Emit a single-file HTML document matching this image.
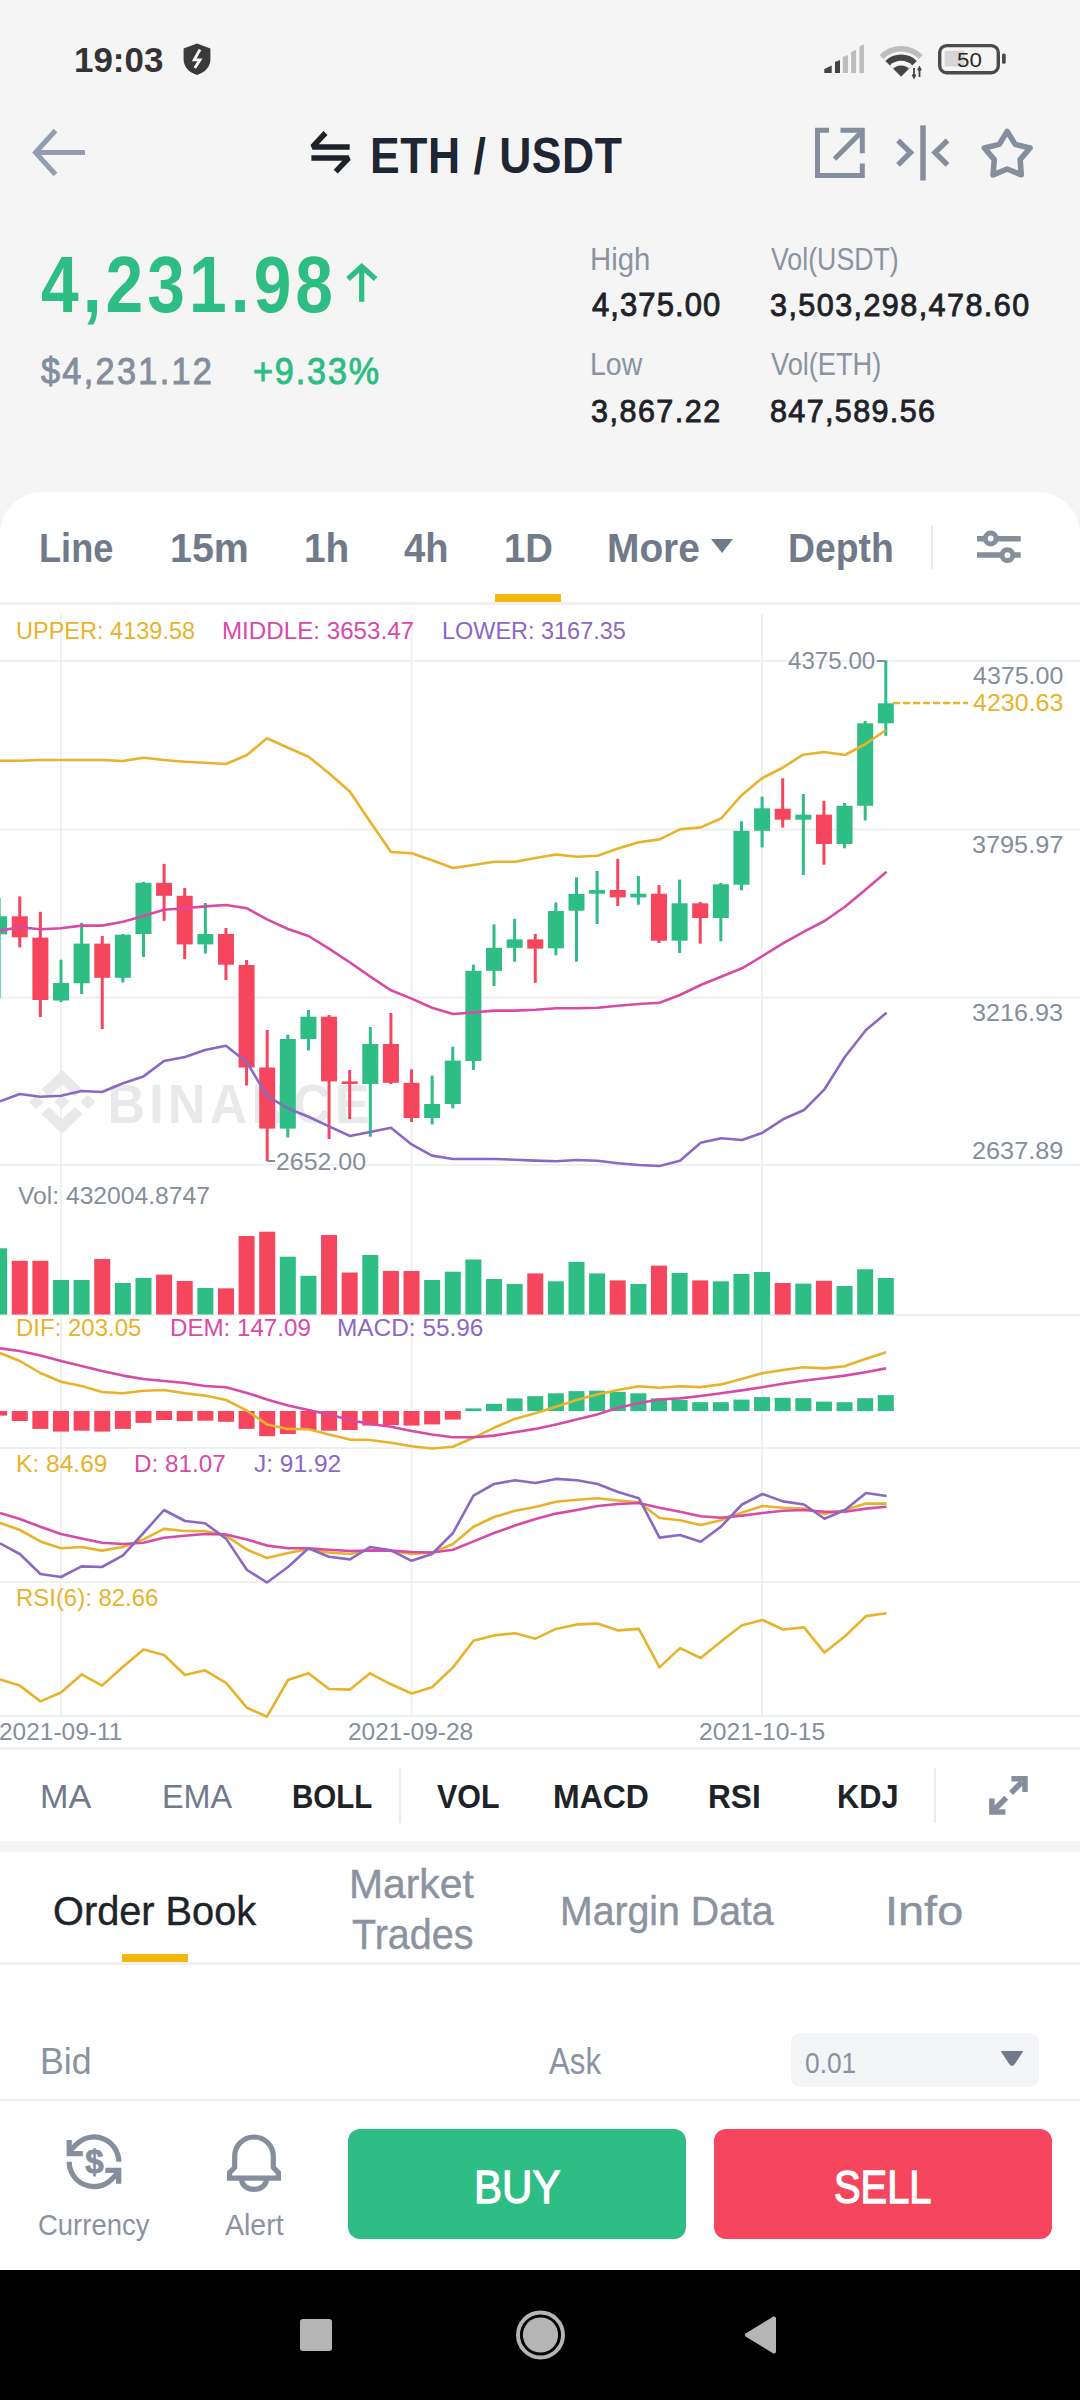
<!DOCTYPE html>
<html><head><meta charset="utf-8"><style>
html,body{margin:0;padding:0;}
body{width:1080px;height:2400px;position:relative;overflow:hidden;background:#f5f5f5;font-family:"Liberation Sans",sans-serif;}
.t{position:absolute;white-space:nowrap;line-height:1;transform-origin:0 0;}
</style></head><body>
<div style="position:absolute;left:0px;top:492px;width:1080px;height:1778px;background:#fff;border-radius:42px 42px 0 0;"></div>
<div class="t" style="left:74.40px;top:43.00px;font-size:34.86px;font-weight:700;color:#333;transform:scaleX(1.0018);letter-spacing:0.00px;">19:03</div>
<svg style="position:absolute;left:180px;top:40px;" width="34" height="38" viewBox="0 0 34 38"><path d="M17 3.4 L30.4 8.5 V19 C30.4 27 25 32.5 17 34.9 C9 32.5 3.6 27 3.6 19 V8.5 Z" fill="#3a3a3a"/><path d="M20 9.5 L14.2 19.8 H20 L14.8 28" stroke="#f5f5f5" stroke-width="2.8" fill="none" stroke-linejoin="miter"/></svg>
<svg style="position:absolute;left:815px;top:35px;" width="200" height="50" viewBox="0 0 200 50"><path d="M9.3 38 V34 L16.7 30.6 V38 Z" fill="#444"/><path d="M20 38 V27 L25 25 V38 Z" fill="#444"/><path d="M27.8 38 V22 L33 20 V38 Z" fill="#bdbdbd"/><path d="M36.1 38 V17 L41.1 14.8 V38 Z" fill="#bdbdbd"/><path d="M44.4 38 V11.5 L49 9.3 V38 Z" fill="#bdbdbd"/><path d="M64.5 20 A30.5 30.5 0 0 1 107.7 20 L86.1 41.6 Z" fill="#bdbdbd"/><path d="M68.4 23.9 A25 25 0 0 1 103.8 23.9 L86.1 41.6 Z" fill="#f5f5f5"/><path d="M70.4 25.9 A22.2 22.2 0 0 1 101.8 25.9 L86.1 41.6 Z" fill="#444"/><path d="M74.9 30.4 A15.8 15.8 0 0 1 97.3 30.4 L86.1 41.6 Z" fill="#f5f5f5"/><path d="M78.3 33.8 A11.1 11.1 0 0 1 93.9 33.8 L86.1 41.6 Z" fill="#444"/><path d="M99 33 V42 M97.5 39.5 L99 42.5 L100.5 39.5 M104.5 42 V33 M103 35.5 L104.5 32.5 L106 35.5" stroke="#444" stroke-width="1.8" fill="none"/><rect x="124.7" y="10.6" width="58.6" height="27.1" rx="7" stroke="#4a4a4a" stroke-width="3.4" fill="none"/><rect x="129.6" y="15.7" width="20" height="15.8" rx="1.5" fill="#d6d6d6"/><rect x="187" y="18.5" width="3.7" height="10.2" rx="1.5" fill="#4a4a4a"/></svg>
<div class="t" style="left:956.71px;top:50.00px;font-size:20.72px;font-weight:400;color:#2a2a2a;transform:scaleX(1.0769);letter-spacing:0.00px;">50</div>
<svg style="position:absolute;left:20px;top:110px;" width="80" height="80" viewBox="0 0 80 80"><path d="M35.5 20.5 L15.5 42.5 L35.5 64.5 M15.5 42.5 H65" stroke="#939dae" stroke-width="5" fill="none" stroke-linejoin="miter" stroke-miterlimit="3"/></svg>
<svg style="position:absolute;left:300px;top:120px;" width="60" height="65" viewBox="0 0 60 65"><path d="M25.5 13 L12.5 26.9 H49.7" stroke="#1e2329" stroke-width="5.5" fill="none" stroke-linejoin="bevel"/><path d="M11.4 38 H48.7 L35.7 51.6" stroke="#1e2329" stroke-width="5.5" fill="none" stroke-linejoin="bevel"/></svg>
<div class="t" style="left:369.61px;top:131.00px;font-size:49.42px;font-weight:700;color:#1e2633;transform:scaleX(0.9000);letter-spacing:0.59px;">ETH / USDT</div>
<svg style="position:absolute;left:800px;top:115px;" width="250" height="75" viewBox="0 0 250 75"><path d="M29 15.2 H17.5 V60.5 H62.3 V48.6" stroke="#848e9c" stroke-width="5" fill="none"/><path d="M40.5 15.2 H62.3 V38.2" stroke="#848e9c" stroke-width="5" fill="none"/><path d="M34.5 44 L60 18.5" stroke="#848e9c" stroke-width="5" fill="none"/><path d="M123 10.4 V65.5" stroke="#848e9c" stroke-width="5.5"/><path d="M98 25.5 L110.5 37.5 L98 49.8 M147.5 25.5 L135 37.5 L147.5 49.8" stroke="#848e9c" stroke-width="5.3" fill="none"/></svg>
<svg style="position:absolute;left:800px;top:115px;" width="250" height="75" viewBox="0 0 250 75"><polygon points="207.20,16.40 215.19,29.40 230.03,32.98 220.13,44.60 221.31,59.82 207.20,54.00 193.09,59.82 194.27,44.60 184.37,32.98 199.21,29.40" stroke="#848e9c" stroke-width="5.6" fill="none" stroke-linejoin="round"/></svg>
<div class="t" style="left:40.98px;top:244.00px;font-size:80.58px;font-weight:700;color:#2ebd85;transform:scaleX(0.8400);letter-spacing:4.85px;">4,231.98</div>
<svg style="position:absolute;left:335px;top:250px;" width="50" height="60" viewBox="0 0 50 60"><path d="M26.7 51.8 V17 M13 29 L26.7 16.5 L40.6 29" stroke="#2ebd85" stroke-width="5.2" fill="none"/></svg>
<div class="t" style="left:40.66px;top:353.00px;font-size:37.25px;font-weight:400;color:#848e9c;transform:scaleX(0.9200);letter-spacing:2.51px;-webkit-text-stroke:1px #848e9c;">$4,231.12</div>
<div class="t" style="left:252.69px;top:354.00px;font-size:36.71px;font-weight:400;color:#2ebd85;transform:scaleX(0.9300);letter-spacing:2.03px;-webkit-text-stroke:1px #2ebd85;">+9.33%</div>
<div class="t" style="left:590.15px;top:244.00px;font-size:30.43px;font-weight:400;color:#8b93a1;transform:scaleX(0.9634);letter-spacing:0.00px;">High</div>
<div class="t" style="left:591.88px;top:289.00px;font-size:32.61px;font-weight:400;color:#1e2329;transform:scaleX(0.9500);letter-spacing:1.16px;-webkit-text-stroke:0.9px #1e2329;">4,375.00</div>
<div class="t" style="left:771.37px;top:244.00px;font-size:30.43px;font-weight:400;color:#8b93a1;transform:scaleX(0.8790);letter-spacing:0.00px;">Vol(USDT)</div>
<div class="t" style="left:770.28px;top:289.00px;font-size:32.14px;font-weight:400;color:#1e2329;transform:scaleX(0.9500);letter-spacing:1.51px;-webkit-text-stroke:0.9px #1e2329;">3,503,298,478.60</div>
<div class="t" style="left:590.22px;top:349.00px;font-size:30.43px;font-weight:400;color:#8b93a1;transform:scaleX(0.9361);letter-spacing:0.00px;">Low</div>
<div class="t" style="left:591.28px;top:395.00px;font-size:32.14px;font-weight:400;color:#1e2329;transform:scaleX(0.9500);letter-spacing:1.57px;-webkit-text-stroke:0.9px #1e2329;">3,867.22</div>
<div class="t" style="left:771.36px;top:349.00px;font-size:30.43px;font-weight:400;color:#8b93a1;transform:scaleX(0.8935);letter-spacing:0.00px;">Vol(ETH)</div>
<div class="t" style="left:770.13px;top:395.00px;font-size:32.14px;font-weight:400;color:#1e2329;transform:scaleX(0.9500);letter-spacing:1.43px;-webkit-text-stroke:0.9px #1e2329;">847,589.56</div>
<div class="t" style="left:38.95px;top:529.00px;font-size:39.86px;font-weight:700;color:#707a8a;transform:scaleX(0.9074);letter-spacing:0.00px;">Line</div>
<div class="t" style="left:170.14px;top:529.00px;font-size:39.86px;font-weight:700;color:#707a8a;transform:scaleX(0.9876);letter-spacing:0.00px;">15m</div>
<div class="t" style="left:303.67px;top:529.00px;font-size:39.86px;font-weight:700;color:#707a8a;transform:scaleX(0.9724);letter-spacing:0.00px;">1h</div>
<div class="t" style="left:404.43px;top:529.00px;font-size:39.86px;font-weight:700;color:#707a8a;transform:scaleX(0.9553);letter-spacing:0.00px;">4h</div>
<div class="t" style="left:503.70px;top:529.00px;font-size:39.86px;font-weight:700;color:#707a8a;transform:scaleX(0.9609);letter-spacing:0.00px;">1D</div>
<div style="position:absolute;left:495px;top:594px;width:66px;height:8px;background:#f0b90b;"></div>
<div class="t" style="left:607.47px;top:529.00px;font-size:39.86px;font-weight:700;color:#707a8a;transform:scaleX(0.9751);letter-spacing:0.00px;">More</div>
<svg style="position:absolute;left:710px;top:538px;" width="24" height="16" viewBox="0 0 24 16"><path d="M1 1 H23 L12 15 Z" fill="#707a8a"/></svg>
<div class="t" style="left:787.57px;top:529.00px;font-size:39.86px;font-weight:700;color:#707a8a;transform:scaleX(0.9369);letter-spacing:0.00px;">Depth</div>
<div style="position:absolute;left:930.5px;top:525px;width:2.5px;height:44px;background:#eaecef;"></div>
<svg style="position:absolute;left:960px;top:520px;" width="80" height="55" viewBox="0 0 80 55"><path d="M17 18.7 H60.7 M17 35 H60.7" stroke="#848e9c" stroke-width="5.5"/><circle cx="30.7" cy="18.5" r="5.4" fill="#fff" stroke="#848e9c" stroke-width="5"/><circle cx="47.4" cy="35.2" r="5.4" fill="#fff" stroke="#848e9c" stroke-width="5"/></svg>
<div style="position:absolute;left:0px;top:602px;width:1080px;height:2.5px;background:#eef0f2;"></div>
<svg style="position:absolute;left:0;top:0" width="1080" height="2400"><rect x="0" y="660" width="1080" height="2" fill="#eff0f2"/><rect x="0" y="828.5" width="1080" height="2" fill="#eff0f2"/><rect x="0" y="996.5" width="1080" height="2" fill="#eff0f2"/><rect x="0" y="1164" width="1080" height="2" fill="#eff0f2"/><rect x="0" y="1314" width="1080" height="2" fill="#eff0f2"/><rect x="0" y="1447" width="1080" height="2" fill="#eff0f2"/><rect x="0" y="1581" width="1080" height="2" fill="#eff0f2"/><rect x="0" y="1715" width="1080" height="2" fill="#eff0f2"/><rect x="60" y="614" width="2" height="1102" fill="#eff0f2"/><rect x="410.5" y="614" width="2" height="1102" fill="#eff0f2"/><rect x="761" y="614" width="2" height="1102" fill="#eff0f2"/><g transform="translate(28.6,1070) scale(0.5277,0.5036)" fill="#e8e9eb"><path d="M38.73 53.2l24.59-24.58 24.6 24.6 14.3-14.31L63.32 0 24.43 38.9l14.3 14.3zM0 63.31l14.3-14.31 14.31 14.31-14.31 14.3zm38.73 10.11l24.59 24.59 24.6-24.6 14.31 14.29-38.9 38.91-38.91-38.88-.02-.02 14.33-14.29zm59.27-10.1l14.3-14.31 14.31 14.3-14.31 14.32z"/><path d="M77.83 63.3L63.32 48.78 52.59 59.51l-1.24 1.23-2.54 2.54-.02.02.02.03 14.51 14.5 14.51-14.52.01-.01-.01-.01z"/></g><text x="107.43" y="1123.4" font-family="Liberation Sans" font-weight="700" font-size="54.64" letter-spacing="4.50" fill="#e8e9eb" transform="translate(5.54,0) scale(0.95,1)">BINANCE</text><rect x="-2.36" y="898" width="3" height="100.00" fill="#2ebd85"/><rect x="-8.86" y="916.3" width="16" height="18.00" fill="#2ebd85"/><rect x="18.26" y="896.4" width="3" height="51.00" fill="#f6465d"/><rect x="11.76" y="916.3" width="16" height="21.00" fill="#f6465d"/><rect x="38.88" y="911.8" width="3" height="105.20" fill="#f6465d"/><rect x="32.38" y="937.6" width="16" height="62.40" fill="#f6465d"/><rect x="59.50" y="959.7" width="3" height="42.30" fill="#2ebd85"/><rect x="53.00" y="983" width="16" height="17.50" fill="#2ebd85"/><rect x="80.12" y="922.8" width="3" height="71.20" fill="#2ebd85"/><rect x="73.62" y="943.6" width="16" height="39.70" fill="#2ebd85"/><rect x="100.74" y="936" width="3" height="93.00" fill="#f6465d"/><rect x="94.24" y="943.6" width="16" height="34.20" fill="#f6465d"/><rect x="121.36" y="934" width="3" height="48.50" fill="#2ebd85"/><rect x="114.86" y="934.7" width="16" height="43.10" fill="#2ebd85"/><rect x="141.98" y="882" width="3" height="75.00" fill="#2ebd85"/><rect x="135.48" y="882.8" width="16" height="51.20" fill="#2ebd85"/><rect x="162.60" y="863.9" width="3" height="56.90" fill="#f6465d"/><rect x="156.10" y="882.8" width="16" height="13.00" fill="#f6465d"/><rect x="183.22" y="888" width="3" height="71.00" fill="#f6465d"/><rect x="176.72" y="895.8" width="16" height="48.60" fill="#f6465d"/><rect x="203.84" y="903" width="3" height="50.60" fill="#2ebd85"/><rect x="197.34" y="934" width="16" height="10.40" fill="#2ebd85"/><rect x="224.46" y="928" width="3" height="52.00" fill="#f6465d"/><rect x="217.96" y="934" width="16" height="30.70" fill="#f6465d"/><rect x="245.08" y="960" width="3" height="125.50" fill="#f6465d"/><rect x="238.58" y="965" width="16" height="102.50" fill="#f6465d"/><rect x="265.70" y="1030" width="3" height="131.00" fill="#f6465d"/><rect x="259.20" y="1067.5" width="16" height="61.10" fill="#f6465d"/><rect x="286.32" y="1034.7" width="3" height="102.80" fill="#2ebd85"/><rect x="279.82" y="1039" width="16" height="89.60" fill="#2ebd85"/><rect x="306.94" y="1010" width="3" height="40.50" fill="#2ebd85"/><rect x="300.44" y="1016.7" width="16" height="22.30" fill="#2ebd85"/><rect x="327.56" y="1015" width="3" height="124.00" fill="#f6465d"/><rect x="321.06" y="1016.7" width="16" height="64.70" fill="#f6465d"/><rect x="348.18" y="1070" width="3" height="49.00" fill="#f6465d"/><rect x="341.68" y="1081.4" width="16" height="2.60" fill="#f6465d"/><rect x="368.80" y="1027" width="3" height="109.70" fill="#2ebd85"/><rect x="362.30" y="1044" width="16" height="40.00" fill="#2ebd85"/><rect x="389.42" y="1013" width="3" height="71.00" fill="#f6465d"/><rect x="382.92" y="1044" width="16" height="38.80" fill="#f6465d"/><rect x="410.04" y="1069.4" width="3" height="52.60" fill="#f6465d"/><rect x="403.54" y="1082.8" width="16" height="35.20" fill="#f6465d"/><rect x="430.66" y="1075.6" width="3" height="48.80" fill="#2ebd85"/><rect x="424.16" y="1104" width="16" height="14.00" fill="#2ebd85"/><rect x="451.28" y="1046.7" width="3" height="61.60" fill="#2ebd85"/><rect x="444.78" y="1060.6" width="16" height="43.40" fill="#2ebd85"/><rect x="471.90" y="964.7" width="3" height="105.30" fill="#2ebd85"/><rect x="465.40" y="970.8" width="16" height="90.20" fill="#2ebd85"/><rect x="492.52" y="924.4" width="3" height="61.60" fill="#2ebd85"/><rect x="486.02" y="947.8" width="16" height="23.00" fill="#2ebd85"/><rect x="513.14" y="918.9" width="3" height="42.80" fill="#2ebd85"/><rect x="506.64" y="939.4" width="16" height="8.40" fill="#2ebd85"/><rect x="533.76" y="934" width="3" height="48.80" fill="#f6465d"/><rect x="527.26" y="939.4" width="16" height="9.20" fill="#f6465d"/><rect x="554.38" y="902.4" width="3" height="52.80" fill="#2ebd85"/><rect x="547.88" y="911" width="16" height="37.30" fill="#2ebd85"/><rect x="575.00" y="877.4" width="3" height="84.30" fill="#2ebd85"/><rect x="568.50" y="894" width="16" height="16.70" fill="#2ebd85"/><rect x="595.62" y="871" width="3" height="53.00" fill="#2ebd85"/><rect x="589.12" y="890" width="16" height="3.70" fill="#2ebd85"/><rect x="616.24" y="858.9" width="3" height="47.10" fill="#f6465d"/><rect x="609.74" y="890" width="16" height="7.40" fill="#f6465d"/><rect x="636.86" y="876" width="3" height="28.80" fill="#2ebd85"/><rect x="630.36" y="893.7" width="16" height="3.70" fill="#2ebd85"/><rect x="657.48" y="885" width="3" height="58.00" fill="#f6465d"/><rect x="650.98" y="893.7" width="16" height="47.00" fill="#f6465d"/><rect x="678.10" y="879.6" width="3" height="73.40" fill="#2ebd85"/><rect x="671.60" y="903.3" width="16" height="37.40" fill="#2ebd85"/><rect x="698.72" y="901.9" width="3" height="41.80" fill="#f6465d"/><rect x="692.22" y="903.3" width="16" height="14.70" fill="#f6465d"/><rect x="719.34" y="883" width="3" height="58.30" fill="#2ebd85"/><rect x="712.84" y="884.3" width="16" height="33.70" fill="#2ebd85"/><rect x="739.96" y="821.3" width="3" height="69.00" fill="#2ebd85"/><rect x="733.46" y="830.8" width="16" height="53.90" fill="#2ebd85"/><rect x="760.58" y="796.7" width="3" height="50.80" fill="#2ebd85"/><rect x="754.08" y="808.3" width="16" height="22.50" fill="#2ebd85"/><rect x="781.20" y="778.3" width="3" height="49.20" fill="#f6465d"/><rect x="774.70" y="808.7" width="16" height="11.00" fill="#f6465d"/><rect x="801.82" y="794" width="3" height="81.00" fill="#2ebd85"/><rect x="795.32" y="814.7" width="16" height="5.00" fill="#2ebd85"/><rect x="822.44" y="800.8" width="3" height="63.90" fill="#f6465d"/><rect x="815.94" y="814.7" width="16" height="29.30" fill="#f6465d"/><rect x="843.06" y="803" width="3" height="45.30" fill="#2ebd85"/><rect x="836.56" y="805.8" width="16" height="38.20" fill="#2ebd85"/><rect x="863.68" y="721" width="3" height="99.50" fill="#2ebd85"/><rect x="857.18" y="723.3" width="16" height="82.50" fill="#2ebd85"/><rect x="884.30" y="660.3" width="3" height="75.50" fill="#2ebd85"/><rect x="877.80" y="703.3" width="16" height="20.00" fill="#2ebd85"/><polyline points="0.0,760.7 19.8,760.7 40.4,760.0 61.0,760.0 81.6,760.0 102.0,760.0 123.0,761.0 143.5,757.7 164.0,760.0 185.0,761.7 205.0,762.7 226.0,764.0 247.0,755.0 267.0,738.3 288.0,747.7 308.5,756.7 329.0,773.3 350.0,791.7 370.0,821.4 391.0,852.0 411.6,853.3 432.0,860.3 453.0,868.0 473.5,865.0 494.0,861.7 515.0,861.7 535.5,858.0 556.0,854.5 577.0,856.7 597.6,855.8 618.0,848.5 638.8,842.2 659.5,839.4 680.0,829.3 700.7,827.4 721.0,818.5 741.0,795.8 762.0,778.3 783.0,767.5 803.0,754.7 824.0,752.0 845.0,755.0 865.5,744.0 886.0,730.0" fill="none" stroke="#e8b32a" stroke-width="2.6" stroke-linejoin="round"/><polyline points="0.0,930.6 19.8,927.2 40.4,929.2 61.0,928.3 81.6,925.6 102.0,925.6 123.0,921.7 143.5,916.0 164.0,909.7 185.0,908.3 205.0,906.4 226.0,905.0 247.0,908.3 267.0,919.4 288.0,929.0 308.5,936.0 329.0,948.6 350.0,962.5 370.0,976.4 391.0,990.3 411.6,998.6 432.0,1007.8 453.0,1014.0 473.5,1012.5 494.0,1010.6 515.0,1010.6 535.5,1009.7 556.0,1008.3 577.0,1008.3 597.6,1007.7 618.0,1005.7 638.8,1004.0 659.5,1002.7 680.0,995.0 700.7,985.0 721.0,976.7 742.0,968.3 762.6,956.0 783.0,943.3 804.0,931.7 824.5,921.0 845.0,906.7 866.0,889.3 886.6,871.7" fill="none" stroke="#d84aa8" stroke-width="2.6" stroke-linejoin="round"/><polyline points="0.0,1101.4 19.8,1094.0 40.4,1096.7 61.0,1095.8 81.6,1091.0 102.0,1092.0 123.0,1083.3 143.5,1076.4 164.0,1061.0 185.0,1057.0 205.0,1050.0 226.0,1045.8 247.0,1062.5 267.0,1095.8 288.0,1108.5 308.5,1116.7 329.0,1126.4 350.0,1136.0 370.0,1132.0 391.0,1127.8 411.6,1144.4 432.0,1155.6 453.0,1159.0 473.5,1159.0 494.0,1159.0 515.0,1159.7 535.5,1160.6 556.0,1161.3 577.0,1160.0 597.6,1160.7 618.0,1163.3 638.8,1165.0 659.5,1166.0 680.0,1160.7 700.7,1142.7 721.0,1138.3 742.0,1140.0 762.6,1132.7 783.0,1119.3 804.0,1110.0 824.5,1089.3 845.0,1056.7 866.0,1030.0 886.6,1012.7" fill="none" stroke="#8b68c4" stroke-width="2.6" stroke-linejoin="round"/><path d="M893 703 H968" stroke="#e8b32a" stroke-width="2.6" stroke-dasharray="7 3"/><path d="M877 661 H885" stroke="#848e9c" stroke-width="2"/><path d="M267 1161 H275" stroke="#848e9c" stroke-width="2"/><rect x="-8.86" y="1248.3" width="16" height="66.20" fill="#2ebd85"/><rect x="11.76" y="1260.8" width="16" height="53.70" fill="#f6465d"/><rect x="32.38" y="1260.8" width="16" height="53.70" fill="#f6465d"/><rect x="53.00" y="1280" width="16" height="34.50" fill="#2ebd85"/><rect x="73.62" y="1280" width="16" height="34.50" fill="#2ebd85"/><rect x="94.24" y="1259" width="16" height="55.50" fill="#f6465d"/><rect x="114.86" y="1283" width="16" height="31.50" fill="#2ebd85"/><rect x="135.48" y="1278" width="16" height="36.50" fill="#2ebd85"/><rect x="156.10" y="1274.6" width="16" height="39.90" fill="#f6465d"/><rect x="176.72" y="1281" width="16" height="33.50" fill="#f6465d"/><rect x="197.34" y="1288" width="16" height="26.50" fill="#2ebd85"/><rect x="217.96" y="1288.3" width="16" height="26.20" fill="#f6465d"/><rect x="238.58" y="1236" width="16" height="78.50" fill="#f6465d"/><rect x="259.20" y="1231.7" width="16" height="82.80" fill="#f6465d"/><rect x="279.82" y="1256.7" width="16" height="57.80" fill="#2ebd85"/><rect x="300.44" y="1275.8" width="16" height="38.70" fill="#2ebd85"/><rect x="321.06" y="1235" width="16" height="79.50" fill="#f6465d"/><rect x="341.68" y="1272.5" width="16" height="42.00" fill="#f6465d"/><rect x="362.30" y="1255" width="16" height="59.50" fill="#2ebd85"/><rect x="382.92" y="1271" width="16" height="43.50" fill="#f6465d"/><rect x="403.54" y="1271" width="16" height="43.50" fill="#f6465d"/><rect x="424.16" y="1280" width="16" height="34.50" fill="#2ebd85"/><rect x="444.78" y="1271.7" width="16" height="42.80" fill="#2ebd85"/><rect x="465.40" y="1259.5" width="16" height="55.00" fill="#2ebd85"/><rect x="486.02" y="1279" width="16" height="35.50" fill="#2ebd85"/><rect x="506.64" y="1284" width="16" height="30.50" fill="#2ebd85"/><rect x="527.26" y="1273.4" width="16" height="41.10" fill="#f6465d"/><rect x="547.88" y="1281.3" width="16" height="33.20" fill="#2ebd85"/><rect x="568.50" y="1261.9" width="16" height="52.60" fill="#2ebd85"/><rect x="589.12" y="1273.4" width="16" height="41.10" fill="#2ebd85"/><rect x="609.74" y="1280.4" width="16" height="34.10" fill="#f6465d"/><rect x="630.36" y="1284" width="16" height="30.50" fill="#2ebd85"/><rect x="650.98" y="1265.6" width="16" height="48.90" fill="#f6465d"/><rect x="671.60" y="1273" width="16" height="41.50" fill="#2ebd85"/><rect x="692.22" y="1280.4" width="16" height="34.10" fill="#f6465d"/><rect x="712.84" y="1281.3" width="16" height="33.20" fill="#2ebd85"/><rect x="733.46" y="1273.9" width="16" height="40.60" fill="#2ebd85"/><rect x="754.08" y="1272" width="16" height="42.50" fill="#2ebd85"/><rect x="774.70" y="1283" width="16" height="31.50" fill="#f6465d"/><rect x="795.32" y="1283.6" width="16" height="30.90" fill="#2ebd85"/><rect x="815.94" y="1280.8" width="16" height="33.70" fill="#f6465d"/><rect x="836.56" y="1286" width="16" height="28.50" fill="#2ebd85"/><rect x="857.18" y="1269.3" width="16" height="45.20" fill="#2ebd85"/><rect x="877.80" y="1278" width="16" height="36.50" fill="#2ebd85"/><rect x="-8.86" y="1411" width="16" height="4.60" fill="#f6465d"/><rect x="11.76" y="1411" width="16" height="10.00" fill="#f6465d"/><rect x="32.38" y="1411" width="16" height="17.90" fill="#f6465d"/><rect x="53.00" y="1411" width="16" height="20.60" fill="#f6465d"/><rect x="73.62" y="1411" width="16" height="19.70" fill="#f6465d"/><rect x="94.24" y="1411" width="16" height="20.60" fill="#f6465d"/><rect x="114.86" y="1411" width="16" height="17.90" fill="#f6465d"/><rect x="135.48" y="1411" width="16" height="11.90" fill="#f6465d"/><rect x="156.10" y="1411" width="16" height="9.00" fill="#f6465d"/><rect x="176.72" y="1411" width="16" height="10.10" fill="#f6465d"/><rect x="197.34" y="1411" width="16" height="9.70" fill="#f6465d"/><rect x="217.96" y="1411" width="16" height="10.80" fill="#f6465d"/><rect x="238.58" y="1411" width="16" height="17.90" fill="#f6465d"/><rect x="259.20" y="1411" width="16" height="25.20" fill="#f6465d"/><rect x="279.82" y="1411" width="16" height="23.00" fill="#f6465d"/><rect x="300.44" y="1411" width="16" height="19.00" fill="#f6465d"/><rect x="321.06" y="1411" width="16" height="19.70" fill="#f6465d"/><rect x="341.68" y="1411" width="16" height="19.00" fill="#f6465d"/><rect x="362.30" y="1411" width="16" height="14.60" fill="#f6465d"/><rect x="382.92" y="1411" width="16" height="14.10" fill="#f6465d"/><rect x="403.54" y="1411" width="16" height="14.60" fill="#f6465d"/><rect x="424.16" y="1411" width="16" height="13.40" fill="#f6465d"/><rect x="444.78" y="1411" width="16" height="8.60" fill="#f6465d"/><rect x="465.40" y="1408.4" width="16" height="2.70" fill="#2ebd85"/><rect x="486.02" y="1403.8" width="16" height="7.30" fill="#2ebd85"/><rect x="506.64" y="1398.4" width="16" height="12.70" fill="#2ebd85"/><rect x="527.26" y="1396.2" width="16" height="14.90" fill="#2ebd85"/><rect x="547.88" y="1393.3" width="16" height="17.80" fill="#2ebd85"/><rect x="568.50" y="1391.1" width="16" height="20.00" fill="#2ebd85"/><rect x="589.12" y="1390.7" width="16" height="20.40" fill="#2ebd85"/><rect x="609.74" y="1391.8" width="16" height="19.30" fill="#2ebd85"/><rect x="630.36" y="1393.3" width="16" height="17.80" fill="#2ebd85"/><rect x="650.98" y="1398.3" width="16" height="12.80" fill="#2ebd85"/><rect x="671.60" y="1400" width="16" height="11.10" fill="#2ebd85"/><rect x="692.22" y="1402.2" width="16" height="8.90" fill="#2ebd85"/><rect x="712.84" y="1402.2" width="16" height="8.90" fill="#2ebd85"/><rect x="733.46" y="1399.6" width="16" height="11.50" fill="#2ebd85"/><rect x="754.08" y="1397.1" width="16" height="14.00" fill="#2ebd85"/><rect x="774.70" y="1397.8" width="16" height="13.30" fill="#2ebd85"/><rect x="795.32" y="1398.2" width="16" height="12.90" fill="#2ebd85"/><rect x="815.94" y="1401.6" width="16" height="9.50" fill="#2ebd85"/><rect x="836.56" y="1402.2" width="16" height="8.90" fill="#2ebd85"/><rect x="857.18" y="1398.2" width="16" height="12.90" fill="#2ebd85"/><rect x="877.80" y="1395.1" width="16" height="16.00" fill="#2ebd85"/><polyline points="0.0,1353.0 19.8,1361.0 40.4,1373.0 61.0,1381.8 81.6,1386.0 102.0,1392.0 123.0,1393.3 143.5,1390.7 164.0,1390.0 185.0,1393.3 205.0,1395.6 226.0,1400.0 247.0,1410.7 267.0,1424.4 288.0,1428.9 308.5,1429.3 329.0,1434.4 350.0,1439.6 370.0,1440.0 391.0,1442.7 411.6,1446.2 432.0,1448.5 452.8,1446.7 473.4,1437.8 494.0,1427.8 514.7,1418.9 535.3,1413.3 556.0,1406.7 576.5,1400.0 597.0,1394.4 617.8,1390.0 638.4,1386.2 659.0,1387.8 679.7,1386.2 700.3,1387.1 721.0,1384.4 741.5,1378.9 762.2,1373.3 782.8,1370.0 803.4,1367.3 824.0,1368.4 844.7,1366.2 865.3,1358.9 886.0,1352.2" fill="none" stroke="#e8b32a" stroke-width="2.6" stroke-linejoin="round"/><polyline points="0.0,1348.4 19.8,1351.0 40.4,1355.6 61.0,1361.0 81.6,1366.0 102.0,1371.0 123.0,1375.6 143.5,1379.0 164.0,1381.0 185.0,1383.0 205.0,1386.0 226.0,1387.3 247.0,1392.9 267.0,1399.6 288.0,1405.6 308.5,1410.0 329.0,1414.4 350.0,1420.0 370.0,1424.0 391.0,1426.7 411.6,1431.0 432.0,1434.5 452.8,1437.3 473.4,1437.3 494.0,1435.6 514.7,1432.2 535.3,1428.9 556.0,1424.4 576.5,1419.6 597.0,1414.4 617.8,1407.8 638.4,1403.3 659.0,1399.5 679.7,1398.4 700.3,1396.0 721.0,1393.3 741.5,1390.4 762.2,1387.3 782.8,1383.8 803.4,1380.7 824.0,1378.2 844.7,1375.6 865.3,1372.2 886.0,1368.4" fill="none" stroke="#d84aa8" stroke-width="2.6" stroke-linejoin="round"/><polyline points="0.0,1522.8 19.8,1530.0 40.4,1541.4 61.0,1548.3 81.6,1547.0 102.0,1550.6 123.0,1547.0 143.5,1539.4 164.0,1528.9 185.0,1531.0 205.0,1531.0 226.0,1535.8 247.0,1549.7 267.0,1558.0 288.0,1553.0 308.5,1549.0 329.0,1552.5 350.0,1554.0 370.0,1549.7 391.0,1551.0 411.6,1554.0 432.0,1552.5 453.0,1544.0 473.5,1526.7 494.0,1517.0 515.0,1510.8 535.5,1507.0 556.0,1501.7 577.0,1499.8 597.6,1498.2 618.0,1500.5 638.8,1502.3 659.5,1518.0 680.0,1520.3 700.7,1525.0 721.0,1520.3 742.0,1512.4 762.6,1506.0 783.0,1507.7 804.0,1508.6 824.5,1514.0 845.0,1510.0 866.0,1503.6 886.6,1503.6" fill="none" stroke="#e8b32a" stroke-width="2.6" stroke-linejoin="round"/><polyline points="0.0,1513.0 19.8,1519.0 40.4,1526.7 61.0,1534.0 81.6,1538.6 102.0,1542.8 123.0,1544.0 143.5,1542.8 164.0,1537.8 185.0,1535.8 205.0,1534.0 226.0,1534.4 247.0,1539.4 267.0,1545.6 288.0,1548.3 308.5,1548.3 329.0,1549.7 350.0,1551.0 370.0,1550.6 391.0,1550.6 411.6,1552.0 432.0,1552.5 453.0,1549.7 473.5,1541.4 494.0,1533.0 515.0,1525.6 535.5,1519.0 556.0,1513.6 577.0,1510.0 597.6,1506.0 618.0,1504.0 638.8,1503.0 659.5,1507.7 680.0,1511.8 700.7,1516.2 721.0,1517.8 742.0,1515.6 762.6,1513.0 783.0,1510.8 804.0,1510.0 824.5,1511.8 845.0,1511.8 866.0,1508.6 886.6,1506.8" fill="none" stroke="#d84aa8" stroke-width="2.6" stroke-linejoin="round"/><polyline points="0.0,1543.3 19.8,1554.0 40.4,1574.0 61.0,1577.0 81.6,1566.4 102.0,1567.0 123.0,1555.3 143.5,1533.0 164.0,1510.0 185.0,1521.0 205.0,1523.3 226.0,1538.6 247.0,1570.0 267.0,1582.5 288.0,1567.0 308.5,1548.3 329.0,1556.7 350.0,1559.4 370.0,1547.0 391.0,1550.3 411.6,1560.8 432.0,1554.0 453.0,1533.0 473.5,1495.6 494.0,1484.0 515.0,1480.3 535.5,1483.0 556.0,1478.9 577.0,1480.3 597.6,1484.0 618.0,1492.0 638.8,1498.2 659.5,1537.6 680.0,1535.0 700.7,1541.7 721.0,1526.6 742.0,1504.5 762.6,1494.0 783.0,1501.4 804.0,1504.5 824.5,1518.7 845.0,1510.0 866.0,1493.0 886.6,1496.0" fill="none" stroke="#8b68c4" stroke-width="2.6" stroke-linejoin="round"/><polyline points="0.0,1679.4 19.8,1685.6 40.4,1701.4 61.0,1692.5 81.6,1674.4 102.0,1685.6 123.0,1666.7 143.5,1649.4 164.0,1655.0 185.0,1675.0 205.0,1670.3 226.0,1682.8 247.0,1707.8 267.0,1716.7 288.0,1680.0 308.5,1673.3 329.0,1689.0 350.0,1689.6 370.0,1673.3 391.0,1684.3 411.6,1693.5 432.0,1687.3 453.0,1667.4 473.5,1640.7 494.0,1635.4 515.0,1633.3 535.5,1638.7 556.0,1628.9 577.0,1624.4 597.6,1623.6 618.0,1630.4 638.8,1628.9 659.5,1667.4 680.0,1648.1 700.7,1658.0 721.0,1641.6 742.0,1625.3 762.6,1620.0 783.0,1629.5 804.0,1627.4 824.5,1652.6 845.0,1636.3 866.0,1616.1 886.6,1613.2" fill="none" stroke="#e8b32a" stroke-width="2.6" stroke-linejoin="round"/><rect x="0" y="1747" width="1080" height="3" fill="#eef0f2"/></svg>
<div class="t" style="left:15.73px;top:619.00px;font-size:24.64px;font-weight:400;color:#e8b32a;transform:scaleX(0.9552);letter-spacing:0.00px;">UPPER: 4139.58</div>
<div class="t" style="left:221.57px;top:619.00px;font-size:24.64px;font-weight:400;color:#d84aa8;transform:scaleX(0.9810);letter-spacing:0.00px;">MIDDLE: 3653.47</div>
<div class="t" style="left:442.12px;top:619.00px;font-size:24.64px;font-weight:400;color:#8b68c4;transform:scaleX(0.9522);letter-spacing:0.00px;">LOWER: 3167.35</div>
<div class="t" style="left:787.52px;top:649.00px;font-size:24.64px;font-weight:400;color:#848e9c;transform:scaleX(0.9805);letter-spacing:0.00px;">4375.00</div>
<div class="t" style="left:972.50px;top:664.00px;font-size:24.64px;font-weight:400;color:#848e9c;transform:scaleX(1.0147);letter-spacing:0.00px;">4375.00</div>
<div class="t" style="left:972.50px;top:691.00px;font-size:24.64px;font-weight:400;color:#e8b32a;transform:scaleX(1.0161);letter-spacing:0.00px;">4230.63</div>
<div class="t" style="left:971.99px;top:833.00px;font-size:24.29px;font-weight:400;color:#848e9c;transform:scaleX(1.0396);letter-spacing:0.00px;">3795.97</div>
<div class="t" style="left:971.99px;top:1001.00px;font-size:24.29px;font-weight:400;color:#848e9c;transform:scaleX(1.0367);letter-spacing:0.00px;">3216.93</div>
<div class="t" style="left:971.74px;top:1139.00px;font-size:24.29px;font-weight:400;color:#848e9c;transform:scaleX(1.0411);letter-spacing:0.00px;">2637.89</div>
<div class="t" style="left:275.75px;top:1150.00px;font-size:24.29px;font-weight:400;color:#848e9c;transform:scaleX(1.0265);letter-spacing:0.00px;">2652.00</div>
<div class="t" style="left:17.68px;top:1184.00px;font-size:24.20px;font-weight:400;color:#848e9c;transform:scaleX(1.0188);letter-spacing:0.00px;">Vol: 432004.8747</div>
<div class="t" style="left:15.88px;top:1317.00px;font-size:23.48px;font-weight:400;color:#e8b32a;transform:scaleX(1.0229);letter-spacing:0.00px;">DIF: 203.05</div>
<div class="t" style="left:170.27px;top:1317.00px;font-size:23.48px;font-weight:400;color:#d84aa8;transform:scaleX(1.0279);letter-spacing:0.00px;">DEM: 147.09</div>
<div class="t" style="left:336.55px;top:1317.00px;font-size:23.48px;font-weight:400;color:#8b68c4;transform:scaleX(1.0395);letter-spacing:0.00px;">MACD: 55.96</div>
<div class="t" style="left:15.53px;top:1452.00px;font-size:24.64px;font-weight:400;color:#e8b32a;transform:scaleX(0.9978);letter-spacing:0.00px;">K: 84.69</div>
<div class="t" style="left:133.56px;top:1452.00px;font-size:24.64px;font-weight:400;color:#d84aa8;transform:scaleX(0.9841);letter-spacing:0.00px;">D: 81.07</div>
<div class="t" style="left:254.13px;top:1452.00px;font-size:24.64px;font-weight:400;color:#8b68c4;transform:scaleX(0.9944);letter-spacing:0.00px;">J: 91.92</div>
<div class="t" style="left:15.58px;top:1586.00px;font-size:24.64px;font-weight:400;color:#e8b32a;transform:scaleX(0.9720);letter-spacing:0.00px;">RSI(6): 82.66</div>
<div class="t" style="left:-1.22px;top:1720.00px;font-size:24.29px;font-weight:400;color:#848e9c;transform:scaleX(1.0076);letter-spacing:0.00px;">2021-09-11</div>
<div class="t" style="left:347.78px;top:1720.00px;font-size:24.29px;font-weight:400;color:#848e9c;transform:scaleX(1.0079);letter-spacing:0.00px;">2021-09-28</div>
<div class="t" style="left:698.77px;top:1720.00px;font-size:24.29px;font-weight:400;color:#848e9c;transform:scaleX(1.0161);letter-spacing:0.00px;">2021-10-15</div>
<div class="t" style="left:39.77px;top:1779.00px;font-size:34.06px;font-weight:400;color:#707a8a;transform:scaleX(1.0028);letter-spacing:0.00px;">MA</div>
<div class="t" style="left:162.41px;top:1779.00px;font-size:34.06px;font-weight:400;color:#707a8a;transform:scaleX(0.9506);letter-spacing:0.00px;">EMA</div>
<div class="t" style="left:291.58px;top:1779.00px;font-size:34.06px;font-weight:700;color:#1e2329;transform:scaleX(0.8669);letter-spacing:0.00px;">BOLL</div>
<div style="position:absolute;left:399px;top:1767.5px;width:2px;height:55px;background:#eaecef;"></div>
<div class="t" style="left:437.35px;top:1779.00px;font-size:34.06px;font-weight:700;color:#1e2329;transform:scaleX(0.8939);letter-spacing:0.00px;">VOL</div>
<div class="t" style="left:552.92px;top:1779.00px;font-size:34.06px;font-weight:700;color:#1e2329;transform:scaleX(0.9398);letter-spacing:0.00px;">MACD</div>
<div class="t" style="left:707.95px;top:1779.00px;font-size:34.06px;font-weight:700;color:#1e2329;transform:scaleX(0.9277);letter-spacing:0.00px;">RSI</div>
<div class="t" style="left:836.50px;top:1779.00px;font-size:34.06px;font-weight:700;color:#1e2329;transform:scaleX(0.9028);letter-spacing:0.00px;">KDJ</div>
<div style="position:absolute;left:934px;top:1767.5px;width:2px;height:55px;background:#eaecef;"></div>
<svg style="position:absolute;left:975px;top:1765px;" width="65" height="60" viewBox="0 0 65 60"><path d="M36.4 13.85 H50 V27.1" stroke="#848e9c" stroke-width="5.5" fill="none"/><path d="M47 17 L36 28" stroke="#848e9c" stroke-width="5.5"/><path d="M16.9 33.4 V47 H30.4" stroke="#848e9c" stroke-width="5.5" fill="none"/><path d="M31.2 32.7 L19.5 44.5" stroke="#848e9c" stroke-width="5.5"/></svg>
<div style="position:absolute;left:0px;top:1841px;width:1080px;height:11px;background:#f5f5f5;"></div>
<div class="t" style="left:53.11px;top:1891.00px;font-size:40.71px;font-weight:400;color:#1e2329;transform:scaleX(0.9762);letter-spacing:0.00px;-webkit-text-stroke:0.4px #1e2329;">Order Book</div>
<div class="t" style="left:348.93px;top:1865.00px;font-size:40.14px;font-weight:400;color:#8b93a1;transform:scaleX(1.0182);letter-spacing:0.00px;-webkit-text-stroke:0.4px #8b93a1;">Market</div>
<div class="t" style="left:352.21px;top:1914.00px;font-size:42.03px;font-weight:400;color:#8b93a1;transform:scaleX(0.9399);letter-spacing:0.00px;-webkit-text-stroke:0.4px #8b93a1;">Trades</div>
<div class="t" style="left:560.36px;top:1891.00px;font-size:41.30px;font-weight:400;color:#8b93a1;transform:scaleX(0.9499);letter-spacing:0.00px;-webkit-text-stroke:0.4px #8b93a1;">Margin Data</div>
<div class="t" style="left:884.78px;top:1891.00px;font-size:41.30px;font-weight:400;color:#8b93a1;transform:scaleX(1.1356);letter-spacing:0.00px;-webkit-text-stroke:0.4px #8b93a1;">Info</div>
<div style="position:absolute;left:122px;top:1954px;width:66px;height:8px;background:#f0b90b;"></div>
<div style="position:absolute;left:0px;top:1962px;width:1080px;height:2.5px;background:#eef0f2;"></div>
<div class="t" style="left:39.64px;top:2044.00px;font-size:36.23px;font-weight:400;color:#8b93a1;transform:scaleX(0.9872);letter-spacing:0.00px;">Bid</div>
<div class="t" style="left:549.00px;top:2044.00px;font-size:36.23px;font-weight:400;color:#8b93a1;transform:scaleX(0.8620);letter-spacing:0.00px;">Ask</div>
<div style="position:absolute;left:791px;top:2032.5px;width:247.5px;height:54px;background:#f4f5f7;border-radius:9px;"></div>
<div class="t" style="left:804.95px;top:2048.00px;font-size:30.00px;font-weight:400;color:#8b93a1;transform:scaleX(0.8781);letter-spacing:0.00px;">0.01</div>
<svg style="position:absolute;left:1000px;top:2050px;" width="24" height="17" viewBox="0 0 24 17"><path d="M1.5 1.5 H22.5 L14 14.5 Q12 16.5 10 14.5 Z" fill="#707a8a" stroke="#707a8a" stroke-width="1" stroke-linejoin="round"/></svg>
<div style="position:absolute;left:0px;top:2099px;width:1080px;height:2px;background:#eef0f2;"></div>
<svg style="position:absolute;left:55px;top:2120px;" width="80" height="80" viewBox="0 0 80 80"><path d="M14.2 20 V33.7 H27.8" stroke="#848e9c" stroke-width="5.2" fill="none"/><path d="M14.4 31.3 L21.46 24.26 A24.8 24.8 0 0 1 63.8 41.8" stroke="#848e9c" stroke-width="5.2" fill="none"/><path d="M50.4 50.4 H63.7 V63.7" stroke="#848e9c" stroke-width="5.2" fill="none"/><path d="M14.2 41.8 A24.8 24.8 0 0 0 56.54 59.34 L63.6 52.3" stroke="#848e9c" stroke-width="5.2" fill="none"/><text x="39.5" y="53" font-family="Liberation Sans" font-weight="700" font-size="33" text-anchor="middle" fill="#848e9c" stroke="#848e9c" stroke-width="0.8">$</text></svg>
<svg style="position:absolute;left:214px;top:2120px;" width="80" height="80" viewBox="0 0 80 80"><path d="M20.7 47.5 V36.3 A19.3 19.3 0 0 1 59.3 36.3 V47.5 L64.4 52.6 V58.1 H15.6 V52.6 Z" stroke="#848e9c" stroke-width="5.2" fill="none" stroke-linejoin="miter"/><path d="M27.7 60 A12.3 9.3 0 0 0 52.3 60" stroke="#848e9c" stroke-width="5.2" fill="none"/></svg>
<div class="t" style="left:37.63px;top:2211.00px;font-size:28.57px;font-weight:400;color:#8b93a1;transform:scaleX(0.9613);letter-spacing:0.00px;">Currency</div>
<div class="t" style="left:225.00px;top:2211.00px;font-size:28.99px;font-weight:400;color:#8b93a1;transform:scaleX(0.9845);letter-spacing:0.00px;">Alert</div>
<div style="position:absolute;left:348px;top:2129px;width:338px;height:110px;background:#2ebd85;border-radius:12px;"></div>
<div style="position:absolute;left:714px;top:2129px;width:338px;height:110px;background:#f6465d;border-radius:12px;"></div>
<div class="t" style="left:473.84px;top:2165.00px;font-size:45.51px;font-weight:400;color:#fff;transform:scaleX(0.9239);letter-spacing:0.00px;-webkit-text-stroke:1.3px #fff;">BUY</div>
<div class="t" style="left:833.91px;top:2165.00px;font-size:45.94px;font-weight:400;color:#fff;transform:scaleX(0.8679);letter-spacing:0.00px;-webkit-text-stroke:1.3px #fff;">SELL</div>
<div style="position:absolute;left:0px;top:2270px;width:1080px;height:130px;background:#000;"></div>
<div style="position:absolute;left:300.2px;top:2319px;width:31.8px;height:31.8px;background:#b5b5b5;border-radius:3px;"></div>
<svg style="position:absolute;left:510px;top:2305px;" width="62" height="62" viewBox="0 0 62 62"><circle cx="30.5" cy="30" r="22.5" stroke="#b5b5b5" stroke-width="3.9" fill="none"/><circle cx="30.5" cy="30" r="17.6" fill="#b5b5b5"/></svg>
<svg style="position:absolute;left:740px;top:2312px;" width="42" height="46" viewBox="0 0 42 46"><path d="M34 6.5 V39.5 L7 23 Z" fill="#b5b5b5" stroke="#b5b5b5" stroke-width="4" stroke-linejoin="round"/></svg>
</body></html>
